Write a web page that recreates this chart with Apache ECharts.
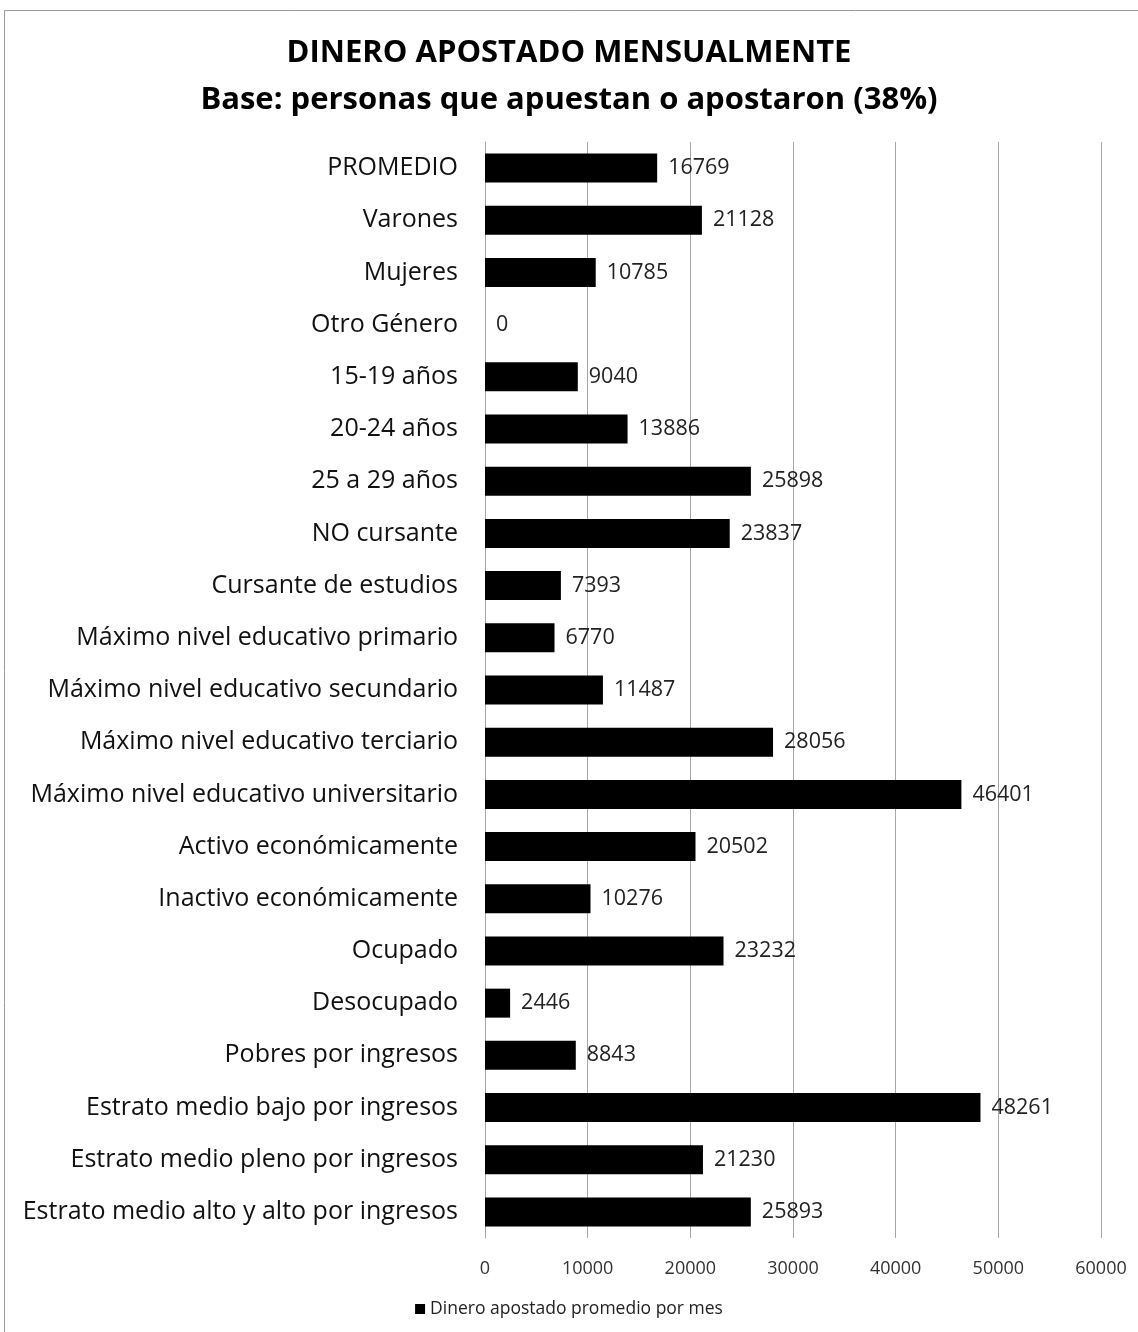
<!DOCTYPE html>
<html><head><meta charset="utf-8">
<script src="https://cdn.jsdelivr.net/npm/echarts@6/dist/echarts.min.js"></script>
<style>html,body{margin:0;padding:0;background:#fff}#c{width:1138px;height:1332px}</style>
</head><body><div id="c"></div>
<script>
const categories = ["PROMEDIO","Varones","Mujeres","Otro Género","15-19 años","20-24 años","25 a 29 años","NO cursante","Cursante de estudios","Máximo nivel educativo primario","Máximo nivel educativo secundario","Máximo nivel educativo terciario","Máximo nivel educativo universitario","Activo económicamente","Inactivo económicamente","Ocupado","Desocupado","Pobres por ingresos","Estrato medio bajo por ingresos","Estrato medio pleno por ingresos","Estrato medio alto y alto por ingresos"];
const values = [16769,21128,10785,0,9040,13886,25898,23837,7393,6770,11487,28056,46401,20502,10276,23232,2446,8843,48261,21230,25893];
const seriesName = "Dinero apostado promedio por mes";
const titleLines = ["DINERO APOSTADO MENSUALMENTE","Base: personas que apuestan o apostaron (38%)"];
const F = "'Open Sans', 'Noto Sans', sans-serif";
const chart = echarts.init(document.getElementById('c'));
chart.setOption({
  animation:false,
  graphic:[{type:'rect',shape:{x:4.5,y:10.5,width:1140,height:1330},style:{fill:null,stroke:'#9a9a9a',lineWidth:1}}],
  title:{text:titleLines.join('\n'),left:'center',top:25,textStyle:{fontFamily:F,fontWeight:'bold',fontSize:31,lineHeight:47,color:'#000'}},
  legend:{bottom:9,left:'center',itemWidth:10,itemHeight:10,itemGap:6,icon:'rect',textStyle:{fontFamily:F,fontSize:17.5,color:'#222'}},
  grid:{left:485,right:37,top:142,bottom:94,containLabel:false},
  xAxis:{type:'value',min:0,max:60000,interval:10000,axisLine:{show:false},axisTick:{show:false},
    splitLine:{show:true,lineStyle:{color:'#a6a6a6',width:1}},
    axisLabel:{fontFamily:F,fontSize:18,color:'#333',margin:22,formatter:function(v){return String(v);}}},
  yAxis:{type:'category',inverse:true,data:categories,axisTick:{show:false},
    axisLine:{show:true,lineStyle:{color:'#a6a6a6'}},
    axisLabel:{fontFamily:F,fontSize:25,color:'#111',margin:27}},
  series:[{name:seriesName,type:'bar',data:values,barWidth:29,itemStyle:{color:'#000'},
    label:{show:true,position:'right',distance:11,fontFamily:F,fontSize:21.5,color:'#222'}}]
});
</script></body></html>
